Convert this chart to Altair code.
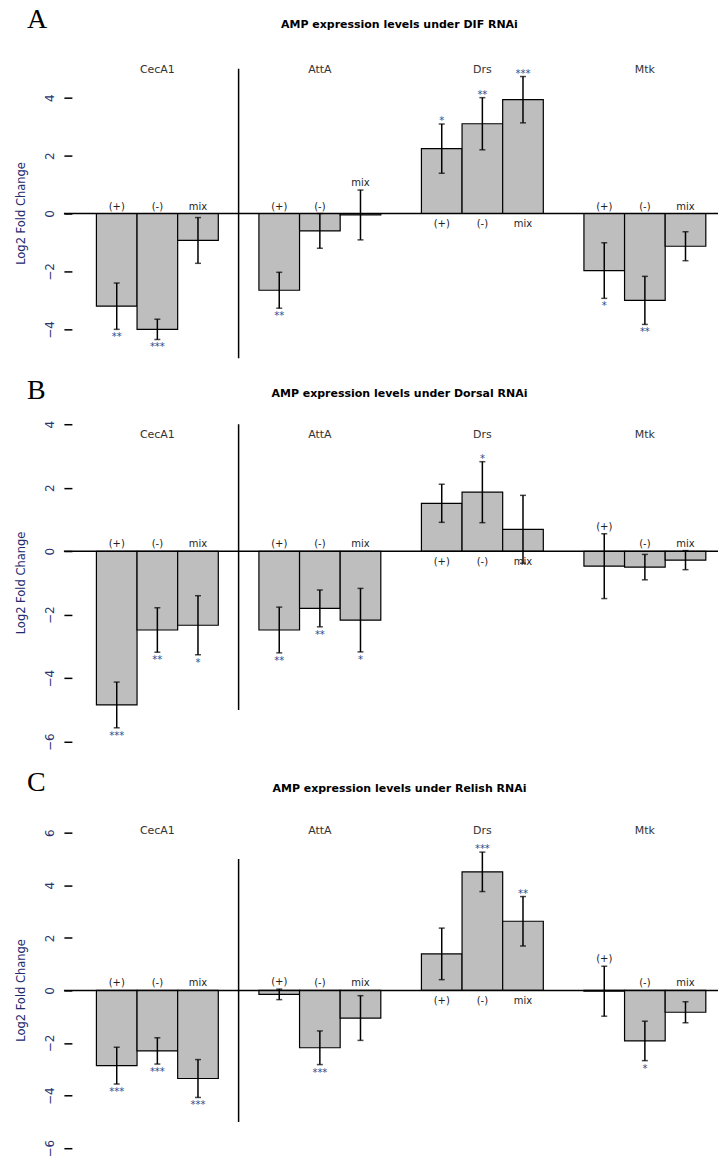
import altair as alt
import pandas as pd

genes = ["CecA1", "AttA", "Drs", "Mtk"]
conditions = ["(+)", "(-)", "mix"]

dif_mean = [-3.2, -4.0, -0.93, -2.65, -0.6, -0.05, 2.24, 3.1, 3.93, -1.97, -3.0, -1.13]
dif_se = [0.8, 0.35, 0.79, 0.62, 0.6, 0.86, 0.85, 0.9, 0.8, 0.96, 0.83, 0.5]
dif_sig = ["**", "***", "", "**", "", "", "*", "**", "***", "*", "**", ""]

dorsal_mean = [-4.84, -2.48, -2.33, -2.48, -1.8, -2.17, 1.51, 1.86, 0.69, -0.47, -0.5, -0.28]
dorsal_se = [0.72, 0.7, 0.93, 0.72, 0.58, 1.0, 0.6, 0.96, 1.07, 1.02, 0.4, 0.3]
dorsal_sig = ["***", "**", "*", "**", "**", "*", "", "*", "", "", "", ""]

relish_mean = [-2.86, -2.3, -3.35, -0.15, -2.18, -1.05, 1.39, 4.51, 2.63, -0.03, -1.92, -0.83]
relish_se = [0.7, 0.5, 0.72, 0.2, 0.64, 0.85, 0.98, 0.75, 0.94, 0.95, 0.75, 0.4]
relish_sig = ["***", "***", "***", "", "***", "", "", "***", "**", "", "*", ""]

PLOT_W = 655
STAR_COLOR = "#2b4a8b"
FONT = "DejaVu Sans"
X_DOMAIN = [-0.8, 15.3]


def panel(letter, title, mean, se, sig, ydom, yticks, height,
          letter_dy, title_dy, gene_dy, sep):
    nc = len(conditions)
    xs = alt.Scale(domain=X_DOMAIN, nice=False, zero=False)
    ys = alt.Scale(domain=ydom, nice=False, zero=False)
    yax = alt.Axis(
        values=yticks, title=None, domain=False, grid=False, ticks=True,
        tickColor="black", tickSize=8, tickWidth=1.5, offset=-8,
        labelAngle=270, labelAlign="center", labelBaseline="alphabetic",
        labelPadding=10, labelFont=FONT, labelFontSize=12, labelColor="#2a3570",
        labelOverlap=False, labelFlush=False)
    rows = []
    for gi, g in enumerate(genes):
        for ci, c in enumerate(conditions):
            k = gi * nc + ci
            x0 = gi * (nc + 1) + ci
            m, s = mean[k], se[k]
            lo, hi = m - s, m + s
            rows.append(dict(gene=g, cond=c, x0=x0, x1=x0 + 1, xc=x0 + 0.5,
                             mean=m, base=0.0, lo=lo, hi=hi, sig=sig[k],
                             label_y=hi if (m < 0 and hi > 0) else 0.0))
    df = pd.DataFrame(rows)
    base = alt.Chart(df)

    def X(f):
        return alt.X(f, scale=xs, axis=None)

    def Y(f):
        return alt.Y(f, scale=ys, axis=yax)

    bars = base.mark_rect(fill="#bebebe", stroke="black", strokeWidth=1.2).encode(
        x=X("x0:Q"), x2="x1:Q", y=Y("mean:Q"), y2="base:Q")
    one = pd.DataFrame({"t": [title], "l": [letter], "yt": ["Log2 Fold Change"],
                        "z": [0.0], "sx": [nc + 0.5], "st": [sep[0]], "sb": [sep[1]]})
    c1 = alt.Chart(one)
    zero = c1.mark_rule(color="black", strokeWidth=1.5).encode(y=Y("z:Q"))
    sep_rule = c1.mark_rule(color="black", strokeWidth=1.5).encode(
        x=X("sx:Q"), y=Y("st:Q"), y2="sb:Q")
    err = base.mark_rule(color="black", strokeWidth=1.5).encode(
        x=X("xc:Q"), y=Y("lo:Q"), y2="hi:Q")
    cap_lo = base.mark_tick(orient="horizontal", size=6, thickness=1.5, color="black").encode(
        x=X("xc:Q"), y=Y("lo:Q"))
    cap_hi = base.mark_tick(orient="horizontal", size=6, thickness=1.5, color="black").encode(
        x=X("xc:Q"), y=Y("hi:Q"))
    lab_neg = base.transform_filter("datum.mean < 0").mark_text(
        dy=-7, fontSize=10, font=FONT, color="#222", baseline="middle").encode(
        x=X("xc:Q"), y=Y("label_y:Q"), text="cond:N")
    lab_pos = base.transform_filter("datum.mean >= 0").mark_text(
        dy=11, fontSize=10, font=FONT, color="#222", baseline="middle").encode(
        x=X("xc:Q"), y=Y("label_y:Q"), text="cond:N")
    st_neg = base.transform_filter("datum.sig != '' && datum.mean < 0").mark_text(
        dy=3, fontSize=10, font=FONT, color=STAR_COLOR, baseline="top").encode(
        x=X("xc:Q"), y=Y("lo:Q"), text="sig:N")
    st_pos = base.transform_filter("datum.sig != '' && datum.mean >= 0").mark_text(
        dy=2, fontSize=10, font=FONT, color=STAR_COLOR, baseline="bottom").encode(
        x=X("xc:Q"), y=Y("hi:Q"), text="sig:N")
    gdf = pd.DataFrame({"gene": genes,
                        "gc": [gi * (nc + 1) + (nc / 2) for gi in range(len(genes))]})
    gene_t = alt.Chart(gdf).mark_text(fontSize=11, font=FONT, color="#333",
                                      baseline="middle").encode(
        x=X("gc:Q"), y=alt.value(gene_dy), text="gene:N")
    title_t = c1.mark_text(fontSize=11, font=FONT, fontWeight="bold",
                           color="black", baseline="middle", align="center").encode(
        x=alt.value(336), y=alt.value(title_dy), text="t:N")
    letter_t = c1.mark_text(fontSize=28, font="Liberation Serif",
                            color="black", baseline="middle", align="left").encode(
        x=alt.value(-37), y=alt.value(letter_dy), text="l:N")
    ytitle = c1.mark_text(fontSize=11.5, font=FONT, color="#222a6e",
                          angle=270, baseline="middle", align="center").encode(
        x=alt.value(-42), y=alt.value(height / 2), text="yt:N")
    return alt.layer(bars, zero, sep_rule, err, cap_lo, cap_hi, lab_neg, lab_pos,
                     st_neg, st_pos, gene_t, title_t, letter_t, ytitle).properties(
        width=PLOT_W, height=height)


pA = panel("A", "AMP expression levels under DIF RNAi", dif_mean, dif_se, dif_sig,
           [-5, 5], [-4, -2, 0, 2, 4], 290, -49, -44, 1, (5, -5))
pB = panel("B", "AMP expression levels under Dorsal RNAi", dorsal_mean, dorsal_se, dorsal_sig,
           [-6, 4], [-6, -4, -2, 0, 2, 4], 318, -33, -30, 11, (4, -5))
pC = panel("C", "AMP expression levels under Relish RNAi", relish_mean, relish_se, relish_sig,
           [-6, 6], [-6, -4, -2, 0, 2, 4, 6], 316, -50, -44, -2, (5, -5))

chart = alt.vconcat(pA, pB, pC, spacing=18).properties(
    padding={"top": 5, "left": 16, "right": 0, "bottom": 0},
    background="white",
).configure_view(stroke=None)

chart.save("out.html", embed_options={"renderer": "svg", "actions": False})
